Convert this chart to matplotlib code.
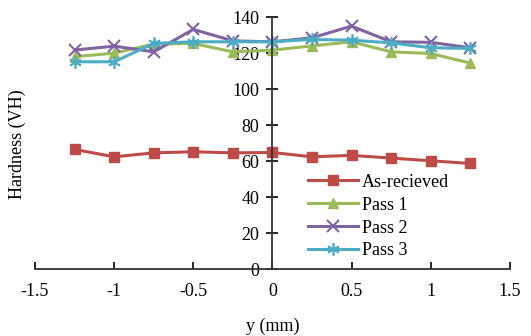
import matplotlib
matplotlib.use("Agg")
import matplotlib.pyplot as plt

plt.rcParams['font.family'] = ['Liberation Serif', 'DejaVu Serif']

# data
pos = [-1.25, -1, -0.75, -0.5, -0.25, 0, 0.25, 0.5, 0.75, 1, 1.25]
as_received = [66.5, 62.4, 64.6, 65.2, 64.6, 64.8, 62.4, 63.2, 61.7, 60.2, 58.7]
pass1 = [118, 120, 125, 125.4, 120.7, 121.7, 124, 126.3, 120.7, 119.8, 114.5]
pass2 = [121.7, 123.9, 120.7, 133.2, 126.8, 126.3, 128.5, 135, 126.3, 126, 123]
pass3 = [115.2, 115.2, 125.4, 126.3, 126.3, 126.3, 127.6, 127.2, 125.7, 123, 122.6]

xticks = [-1.5, -1, -0.5, 0, 0.5, 1, 1.5]
xticklabels = ['-1.5', '-1', '-0.5', '0', '0.5', '1', '1.5']
yticks = [0, 20, 40, 60, 80, 100, 120, 140]

fig = plt.figure(figsize=(5.31, 3.36), dpi=100)
ax = fig.add_axes([0.066, 0.199, 0.894, 0.75])

ax.plot(pos, as_received, color='#BE4B48', lw=2.2, marker='s', ms=7, label='As-recieved')
ax.plot(pos, pass1, color='#9BBB59', lw=2.2, marker='^', ms=7, label='Pass 1')
ax.plot(pos, pass2, color='#8064A2', lw=2.2, marker='x', ms=8, mew=1.5, label='Pass 2')
ax.plot(pos, pass3, color='#4BACC6', lw=2.2, marker=(6, 2, 0), ms=9, mew=1.2, label='Pass 3')

ax.set_xlim(-1.5, 1.5)
ax.set_ylim(0, 140)
ax.spines['left'].set_position(('data', 0))
ax.spines['bottom'].set_position(('data', 0))
ax.spines['top'].set_visible(False)
ax.spines['right'].set_visible(False)
for s in ('left', 'bottom'):
    ax.spines[s].set_color('#333333')
    ax.spines[s].set_linewidth(1.3)

ax.set_xticks(xticks)
ax.set_xticklabels(xticklabels)
ax.set_yticks(yticks)
ax.tick_params(axis='x', direction='in', length=5, width=1.2, labelsize=13, pad=10)
ax.tick_params(axis='y', direction='inout', length=9, width=1.2, labelsize=13, pad=5)

fig.text(0.032, 0.571, 'Hardness (VH)', rotation=90, ha='center', va='center', fontsize=13)
fig.text(0.514, 0.03, 'y (mm)', ha='center', va='center', fontsize=13)

ax.legend(loc='upper left', bbox_to_anchor=(0.555, 0.415), frameon=False, fontsize=13,
          handlelength=2.8, handletextpad=0.2, labelspacing=0.33, borderpad=0)

fig.savefig('out.png', dpi=100)
